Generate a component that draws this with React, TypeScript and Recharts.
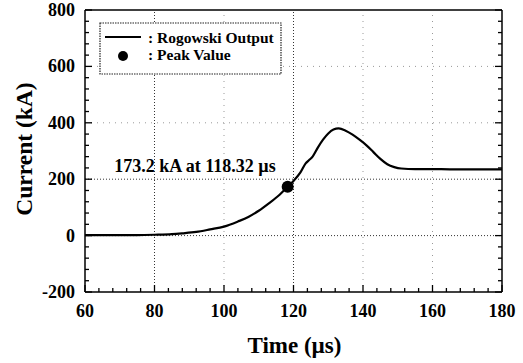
import React from "react"
import { LineChart, Line, XAxis, YAxis, ReferenceLine, ReferenceDot, Legend, Label } from "recharts"

// Rogowski coil output
const times = [
  60, 65, 70, 75, 80, 85, 88, 92, 96, 100, 104, 107, 110, 113, 116, 118.32, 120, 122, 123.5, 124.5,
  125.5, 127, 128.5, 130, 131.5, 133, 135, 137, 139, 141, 143, 145, 147, 149, 151, 155, 160, 165, 170,
  175, 180,
]
const current = [
  2, 2, 2, 2, 3, 5, 8, 13, 22, 32, 50, 66, 88, 115, 145, 173.2, 194, 224, 256, 268, 280, 312, 340, 362,
  376, 380, 372, 358, 340, 320, 296, 272, 253, 243, 238, 236, 236, 235, 235, 235, 235,
]

const xMajor = [60, 80, 100, 120, 140, 160, 180]
const yMajor = [-200, 0, 200, 400, 600, 800]
const xGrid = [80, 100, 120, 140, 160]
const yGrid = [0, 200, 400, 600]
const darkGridX = [80, 120]
const darkGridY = [0, 200]
const peakTime = 118.32
const peakCurrent = 173.2
const legendLabels = [": Rogowski Output", ": Peak Value"]

const xMinorStep = 4
const yMinorStep = 40

const xTicks: number[] = []
for (let t = xMajor[0]; t <= xMajor[xMajor.length - 1]; t += xMinorStep) xTicks.push(t)
const yTicks: number[] = []
for (let v = yMajor[0]; v <= yMajor[yMajor.length - 1]; v += yMinorStep) yTicks.push(v)

const data = times.map((t, i) => ({ time: t, current: current[i] }))

const font = '"Liberation Serif", "Times New Roman", serif'

function HTick({ x, y, payload, side }: any) {
  const major = xMajor.includes(payload.value)
  const len = major ? 7 : 4
  const dir = side === "bottom" ? -1 : 1
  return (
    <g>
      <line x1={x} x2={x} y1={y} y2={y + dir * len} stroke="#000" strokeWidth={1.3} />
      {major && side === "bottom" && (
        <text x={x} y={y + 25} textAnchor="middle" fontFamily={font} fontWeight="bold" fontSize={18} fill="#000">
          {payload.value}
        </text>
      )}
    </g>
  )
}

function VTick({ x, y, payload, side }: any) {
  const major = yMajor.includes(payload.value)
  const len = major ? 7 : 4
  const dir = side === "left" ? 1 : -1
  return (
    <g>
      <line x1={x} x2={x + dir * len} y1={y} y2={y} stroke="#000" strokeWidth={1.3} />
      {major && side === "left" && (
        <text x={x - 10} y={y + 6} textAnchor="end" fontFamily={font} fontWeight="bold" fontSize={18} fill="#000">
          {payload.value}
        </text>
      )}
    </g>
  )
}

function LegendBox() {
  return (
    <svg width={184} height={54} style={{ display: "block" }}>
      <rect x={1} y={1} width={181} height={51} fill="#fff" stroke="#222" strokeWidth={1.2} strokeDasharray="1.5 1" />
      <line x1={6} x2={42} y1={15} y2={15} stroke="#000" strokeWidth={2} />
      <circle cx={24} cy={34} r={5} fill="#000" />
      <text x={49} y={21} fontFamily={font} fontWeight="bold" fontSize={15.5} fill="#000">
        {legendLabels[0]}
      </text>
      <text x={49} y={38} fontFamily={font} fontWeight="bold" fontSize={15.5} fill="#000">
        {legendLabels[1]}
      </text>
    </svg>
  )
}

export default function App() {
  return (
    <div style={{ position: "absolute", left: 0, top: 0, background: "#fff" }}>
      <LineChart width={523} height={363} data={data} margin={{ top: 0, right: 0, left: 0, bottom: 0 }}>
        <XAxis
          dataKey="time"
          type="number"
          domain={[60, 180]}
          ticks={xTicks}
          interval={0}
          height={71}
          tickSize={0}
          tickMargin={0}
          tickLine={false}
          axisLine={{ stroke: "#000", strokeWidth: 1.5 }}
          tick={(p: any) => <HTick {...p} side="bottom" />}
        >
          <Label
            content={({ viewBox }: any) => (
              <text
                x={viewBox.x + viewBox.width / 2 + 1}
                y={viewBox.y + 61}
                textAnchor="middle"
                fontFamily={font}
                fontWeight="bold"
                fontSize={23}
                fill="#000"
              >
                Time (µs)
              </text>
            )}
          />
        </XAxis>
        <XAxis
          xAxisId="top"
          orientation="top"
          type="number"
          domain={[60, 180]}
          allowDataOverflow
          ticks={xTicks}
          interval={0}
          height={10}
          tickSize={0}
          tickMargin={0}
          tickLine={false}
          axisLine={{ stroke: "#000", strokeWidth: 1.5 }}
          tick={(p: any) => <HTick {...p} side="top" />}
        />
        <YAxis
          type="number"
          domain={[-200, 800]}
          ticks={yTicks}
          interval={0}
          width={85}
          tickSize={0}
          tickMargin={0}
          tickLine={false}
          axisLine={{ stroke: "#000", strokeWidth: 1.5 }}
          tick={(p: any) => <VTick {...p} side="left" />}
        >
          <Label
            content={({ viewBox }: any) => {
              const cx = viewBox.x + 24
              const cy = viewBox.y + viewBox.height / 2 - 2
              return (
                <text
                  x={cx}
                  y={cy}
                  transform={`rotate(-90 ${cx} ${cy})`}
                  textAnchor="middle"
                  dominantBaseline="central"
                  fontFamily={font}
                  fontWeight="bold"
                  fontSize={23.5}
                  fill="#000"
                >
                  Current (kA)
                </text>
              )
            }}
          />
        </YAxis>
        <YAxis
          yAxisId="right"
          orientation="right"
          type="number"
          domain={[-200, 800]}
          allowDataOverflow
          ticks={yTicks}
          interval={0}
          width={21}
          tickSize={0}
          tickMargin={0}
          tickLine={false}
          axisLine={{ stroke: "#000", strokeWidth: 1.5 }}
          tick={(p: any) => <VTick {...p} side="right" />}
        />
        {xGrid.map((g) => (
          <ReferenceLine
            key={`x${g}`}
            x={g}
            stroke={darkGridX.includes(g) ? "#333" : "#999"}
            strokeDasharray={darkGridX.includes(g) ? "1 2" : "1 5"}
          />
        ))}
        {yGrid.map((g) => (
          <ReferenceLine
            key={`y${g}`}
            y={g}
            stroke={darkGridY.includes(g) ? "#333" : "#999"}
            strokeDasharray={darkGridY.includes(g) ? "1 2" : "1 5"}
          />
        ))}
        <Line
          type="monotone"
          dataKey="current"
          stroke="#000"
          strokeWidth={2.2}
          dot={false}
          isAnimationActive={false}
        />
        <ReferenceDot x={peakTime} y={peakCurrent} r={6} fill="#000" stroke="none">
          <Label
            content={({ viewBox }: any) => {
              const cx = viewBox.x + viewBox.width / 2
              const cy = viewBox.y + viewBox.height / 2
              return (
                <text
                  x={cx - 12}
                  y={cy - 15}
                  textAnchor="end"
                  fontFamily={font}
                  fontWeight="bold"
                  fontSize={18}
                  fill="#000"
                >
                  {`${peakCurrent} kA at ${peakTime} µs`}
                </text>
              )
            }}
          />
        </ReferenceDot>
        <Legend
          layout="horizontal"
          verticalAlign="middle"
          align="center"
          wrapperStyle={{ left: 99, top: 22, width: 184, height: 54 }}
          content={() => <LegendBox />}
        />
      </LineChart>
    </div>
  )
}
